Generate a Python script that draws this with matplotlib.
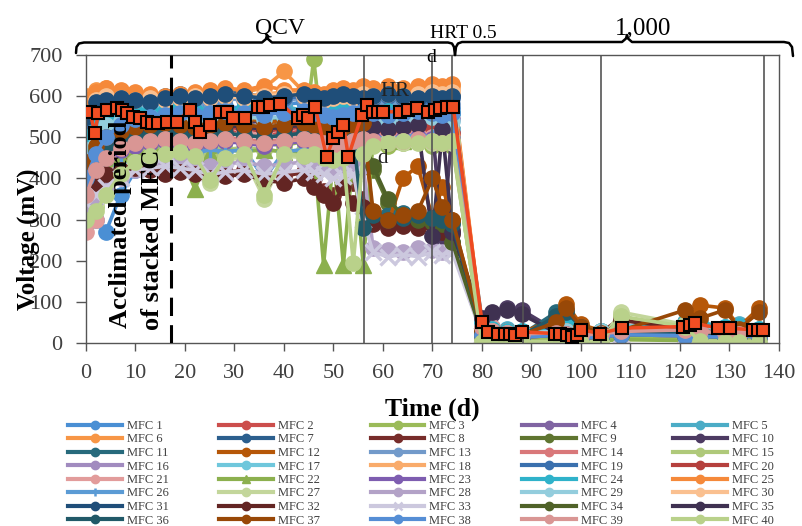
import matplotlib.pyplot as plt
from matplotlib.lines import Line2D

# sampling days of the individual MFCs (OCV / HRT phase, then 1,000 ohm phase)
days_a = [0, 2, 4, 7, 10, 13, 16, 19, 22, 25, 28, 32, 36, 40,
          44, 46, 48, 50, 52, 54, 56, 58, 61, 64, 67, 70, 72, 74]
days_b = [80, 82, 85, 88, 95, 97, 100, 104, 108, 121, 124, 129, 132, 136]
days = days_a + days_b

mfc1 = [290, 300, 270, 360, 420, 430, 480, 530, 560, 570, 575, 570, 575, 580,
        585, 580, 570, 565, 570, 580, 575, 580, 575, 570, 575, 570, 575, 570,
        20, 15, 12, 15, 18, 15, 12, 18, 22, 20, 22, 18, 15, 18]
mfc2 = [400, 440, 460, 490, 505, 510, 515, 510, 505, 510, 515, 510, 505, 510,
        515, 510, 500, 495, 500, 510, 515, 510, 505, 510, 505, 510, 505, 500,
        35, 28, 25, 22, 25, 22, 20, 25, 30, 35, 30, 28, 25, 22]
mfc3 = [330, 360, 400, 440, 470, 480, 490, 495, 480, 470, 490, 495, 485, 480,
        490, 690, 470, 480, 475, 480, 490, 495, 480, 485, 490, 480, 485, 480,
        10, 5, 5, 8, 10, 8, 5, 8, 12, 10, 8, 6, 8, 10]
mfc4 = [430, 470, 500, 520, 540, 545, 550, 545, 540, 545, 550, 555, 550, 545,
        550, 545, 540, 535, 540, 545, 550, 555, 550, 545, 550, 545, 550, 545,
        40, 30, 25, 22, 20, 18, 15, 20, 25, 22, 20, 18, 20, 22]
mfc5 = [480, 520, 540, 555, 560, 565, 560, 565, 570, 565, 560, 565, 570, 575,
        565, 560, 555, 560, 565, 570, 565, 560, 565, 560, 565, 560, 555, 560,
        55, 40, 35, 30, 45, 50, 35, 30, 40, 45, 50, 40, 45, 35]
mfc6 = [600, 615, 620, 610, 605, 600, 595, 600, 605, 610, 615, 610, 620, 660,
        610, 605, 600, 610, 615, 610, 620, 615, 620, 615, 620, 625, 620, 625,
        30, 25, 22, 20, 25, 28, 22, 20, 25, 30, 28, 25, 22, 20]
mfc7 = [560, 590, 595, 600, 595, 590, 600, 605, 600, 605, 610, 605, 600, 605,
        610, 605, 600, 605, 610, 605, 600, 605, 610, 605, 600, 605, 600, 605,
        25, 20, 18, 15, 20, 18, 15, 18, 22, 25, 20, 18, 20, 18]
mfc8 = [380, 400, 420, 440, 450, 430, 420, 425, 420, 410, 415, 420, 410, 405,
        415, 400, 370, 360, 380, 390, 350, 300, 290, 295, 290, 300, 280, 275,
        30, 25, 20, 18, 22, 20, 18, 25, 60, 40, 35, 30, 28, 25]
mfc9 = [420, 470, 500, 520, 530, 535, 540, 545, 540, 545, 550, 545, 540, 545,
        550, 545, 540, 545, 550, 545, 540, 420, 340, 300, 295, 295, 280, 245,
        25, 20, 18, 15, 18, 20, 15, 18, 22, 20, 18, 15, 18, 20]
mfc10 = [440, 480, 500, 520, 530, 535, 530, 535, 540, 535, 530, 535, 540, 535,
         530, 535, 540, 535, 530, 535, 540, 535, 530, 535, 540, 520, 250, 520,
         50, 70, 85, 80, 30, 25, 20, 22, 25, 20, 22, 18, 20, 22]
mfc11 = [400, 450, 480, 500, 510, 515, 520, 525, 520, 525, 530, 525, 520, 525,
         530, 525, 520, 515, 520, 525, 290, 300, 310, 315, 310, 305, 300, 295,
         30, 25, 22, 20, 75, 80, 40, 25, 30, 25, 22, 20, 25, 22]
mfc12 = [450, 490, 510, 520, 530, 535, 540, 545, 540, 535, 540, 545, 540, 535,
         540, 545, 540, 535, 540, 545, 540, 300, 290, 400, 430, 305, 380, 300,
         35, 30, 28, 25, 60, 95, 45, 30, 35, 50, 92, 85, 40, 85]
mfc13 = [520, 560, 575, 580, 585, 590, 585, 590, 585, 590, 595, 590, 585, 590,
         595, 590, 585, 580, 585, 590, 585, 590, 585, 590, 585, 590, 585, 580,
         30, 25, 20, 18, 22, 20, 18, 22, 25, 30, 25, 22, 20, 22]
mfc14 = [380, 430, 460, 480, 490, 495, 500, 495, 490, 495, 500, 495, 490, 495,
         500, 495, 490, 485, 490, 495, 500, 495, 490, 495, 500, 495, 490, 495,
         45, 35, 28, 25, 28, 25, 22, 25, 30, 35, 30, 28, 25, 28]
mfc15 = [300, 330, 380, 420, 450, 460, 465, 470, 465, 460, 470, 475, 470, 465,
         470, 465, 460, 455, 460, 465, 470, 490, 485, 490, 495, 490, 485, 495,
         5, 3, 2, 3, 5, 4, 3, 5, 70, 8, 5, 4, 3, 5]
mfc16 = [420, 460, 490, 510, 520, 525, 530, 525, 520, 525, 530, 525, 520, 525,
         530, 525, 520, 515, 520, 525, 530, 525, 520, 525, 530, 525, 520, 515,
         20, 18, 15, 15, 18, 15, 12, 15, 20, 18, 15, 15, 18, 15]
mfc17 = [450, 490, 510, 520, 525, 530, 535, 530, 525, 530, 535, 530, 525, 530,
         535, 530, 525, 520, 525, 530, 535, 530, 525, 520, 525, 520, 515, 520,
         45, 30, 25, 22, 35, 30, 25, 28, 40, 45, 40, 35, 38, 30]
mfc18 = [580, 600, 605, 600, 595, 600, 595, 600, 605, 600, 605, 600, 605, 610,
         605, 600, 595, 600, 605, 600, 610, 605, 610, 605, 610, 615, 610, 615,
         20, 18, 15, 15, 18, 15, 12, 15, 20, 18, 15, 15, 18, 15]
mfc19 = [540, 580, 590, 595, 590, 585, 590, 595, 600, 595, 600, 595, 590, 595,
         600, 595, 590, 595, 600, 595, 590, 595, 600, 595, 590, 595, 590, 595,
         25, 20, 18, 15, 18, 15, 12, 15, 20, 18, 15, 15, 18, 15]
mfc20 = [420, 460, 490, 505, 515, 520, 525, 520, 515, 520, 525, 520, 515, 520,
         525, 520, 515, 510, 515, 520, 525, 520, 515, 520, 525, 520, 515, 510,
         30, 25, 20, 18, 20, 18, 15, 18, 22, 25, 22, 20, 18, 20]
mfc21 = [270, 300, 420, 470, 495, 500, 505, 510, 505, 500, 505, 510, 505, 500,
         505, 500, 495, 490, 495, 500, 505, 500, 495, 500, 505, 500, 495, 500,
         55, 40, 30, 25, 28, 25, 22, 25, 30, 35, 30, 28, 25, 28]
mfc22 = [350, 390, 420, 450, 460, 465, 470, 460, 375, 460, 470, 465, 470, 465,
         460, 465, 190, 455, 190, 460, 190, 490, 495, 490, 500, 495, 490, 495,
         5, 3, 2, 3, 5, 4, 3, 5, 8, 6, 5, 4, 3, 5]
mfc23 = [380, 420, 450, 470, 480, 485, 490, 485, 480, 485, 490, 485, 480, 485,
         490, 485, 480, 475, 480, 485, 490, 495, 490, 495, 500, 495, 490, 495,
         20, 18, 15, 15, 18, 15, 12, 15, 20, 18, 15, 15, 18, 15]
mfc24 = [500, 540, 555, 560, 565, 560, 565, 570, 565, 560, 565, 570, 565, 560,
         565, 560, 555, 560, 565, 570, 565, 560, 565, 560, 555, 560, 555, 560,
         50, 35, 30, 28, 40, 45, 35, 30, 35, 50, 45, 40, 42, 35]
mfc25 = [590, 610, 620, 615, 610, 605, 600, 605, 610, 615, 620, 615, 625, 615,
         615, 610, 605, 615, 620, 615, 625, 620, 625, 620, 625, 630, 625, 630,
         35, 30, 25, 22, 28, 30, 25, 22, 28, 35, 30, 28, 25, 22]
mfc26 = [330, 380, 410, 430, 440, 445, 450, 455, 460, 470, 465, 470, 400, 465,
         470, 465, 460, 455, 460, 465, 470, 500, 495, 500, 505, 500, 495, 500,
         20, 18, 15, 15, 18, 15, 12, 15, 20, 18, 15, 15, 18, 15]
mfc27 = [310, 340, 390, 420, 440, 450, 455, 460, 450, 390, 445, 450, 350, 455,
         450, 455, 445, 450, 445, 450, 455, 485, 490, 485, 490, 485, 490, 485,
         3, 2, 2, 3, 4, 3, 2, 4, 75, 45, 5, 4, 3, 5]
mfc28 = [330, 350, 380, 400, 420, 430, 435, 440, 435, 430, 435, 440, 430, 435,
         440, 435, 430, 425, 430, 435, 430, 230, 225, 220, 230, 225, 220, 230,
         20, 18, 15, 15, 18, 15, 12, 15, 20, 18, 15, 15, 18, 15]
mfc29 = [470, 510, 530, 540, 545, 550, 545, 550, 545, 550, 555, 550, 545, 550,
         555, 550, 545, 540, 545, 550, 545, 550, 545, 550, 545, 550, 545, 540,
         40, 30, 25, 22, 30, 28, 25, 28, 35, 40, 35, 30, 32, 28]
mfc30 = [560, 590, 600, 595, 590, 595, 590, 595, 600, 595, 600, 595, 600, 605,
         600, 595, 590, 595, 600, 595, 605, 600, 605, 600, 605, 610, 605, 610,
         25, 20, 18, 15, 18, 15, 12, 15, 20, 18, 15, 15, 18, 15]
mfc31 = [550, 585, 590, 595, 590, 585, 595, 600, 595, 600, 605, 600, 595, 600,
         605, 600, 595, 600, 605, 600, 595, 600, 605, 600, 595, 600, 595, 600,
         20, 18, 15, 15, 18, 15, 12, 15, 20, 18, 15, 15, 18, 15]
mfc32 = [360, 390, 410, 420, 425, 420, 410, 415, 410, 400, 405, 410, 395, 390,
         400, 380, 360, 340, 380, 340, 330, 290, 280, 285, 280, 290, 270, 265,
         25, 20, 18, 15, 18, 15, 12, 15, 55, 35, 30, 25, 22, 20]
mfc33 = [340, 360, 380, 400, 420, 425, 430, 425, 420, 410, 415, 420, 410, 415,
         420, 415, 410, 400, 405, 410, 300, 220, 210, 215, 210, 220, 215, 220,
         20, 18, 15, 15, 18, 15, 12, 15, 20, 18, 15, 15, 18, 15]
mfc34 = [430, 470, 490, 510, 520, 525, 530, 525, 520, 525, 530, 525, 520, 525,
         530, 525, 520, 515, 520, 525, 500, 430, 350, 310, 300, 295, 290, 245,
         20, 18, 15, 15, 18, 15, 12, 15, 20, 18, 15, 15, 18, 15]
mfc35 = [420, 460, 490, 510, 520, 525, 530, 525, 520, 525, 530, 525, 520, 525,
         530, 525, 520, 515, 520, 525, 530, 525, 520, 525, 530, 260, 520, 270,
         60, 75, 80, 70, 25, 22, 18, 20, 25, 22, 20, 18, 20, 22]
mfc36 = [400, 440, 470, 490, 500, 505, 510, 505, 500, 505, 510, 505, 500, 505,
         510, 505, 500, 495, 500, 505, 280, 310, 300, 305, 310, 305, 300, 290,
         28, 22, 20, 18, 65, 75, 40, 22, 25, 22, 20, 18, 20, 22]
mfc37 = [440, 480, 500, 515, 525, 530, 535, 530, 525, 530, 535, 530, 525, 530,
         535, 530, 525, 520, 525, 530, 535, 320, 300, 310, 320, 400, 330, 300,
         30, 25, 22, 20, 50, 85, 40, 25, 30, 80, 60, 80, 35, 75]
mfc38 = [400, 460, 500, 530, 545, 550, 555, 560, 555, 560, 565, 560, 555, 560,
         565, 560, 555, 550, 555, 560, 565, 560, 555, 560, 565, 560, 555, 560,
         20, 18, 15, 15, 18, 15, 12, 15, 20, 18, 15, 15, 18, 15]
mfc39 = [360, 420, 450, 475, 485, 490, 495, 490, 485, 490, 495, 490, 485, 490,
         495, 490, 485, 480, 485, 490, 495, 490, 485, 490, 495, 490, 485, 490,
         40, 30, 25, 22, 25, 22, 20, 22, 28, 32, 28, 25, 22, 25]
mfc40 = [300, 320, 360, 410, 440, 455, 460, 465, 455, 395, 450, 460, 360, 460,
         455, 460, 450, 445, 450, 195, 460, 480, 485, 490, 485, 490, 485, 490,
         2, 2, 1, 2, 3, 2, 1, 3, 65, 40, 4, 3, 2, 3]

series = [mfc1, mfc2, mfc3, mfc4, mfc5, mfc6, mfc7, mfc8, mfc9, mfc10,
          mfc11, mfc12, mfc13, mfc14, mfc15, mfc16, mfc17, mfc18, mfc19, mfc20,
          mfc21, mfc22, mfc23, mfc24, mfc25, mfc26, mfc27, mfc28, mfc29, mfc30,
          mfc31, mfc32, mfc33, mfc34, mfc35, mfc36, mfc37, mfc38, mfc39, mfc40]

colors = ['#4A8FD4', '#CC4E4C', '#9BBB59', '#8064A2', '#4BACC6',
          '#F79646', '#2C5F8E', '#772C2A', '#5F7530', '#4D3B62',
          '#276A7C', '#B65708', '#729ACA', '#D9787A', '#AFC97A',
          '#A18BBF', '#6FC7DC', '#F9AB6B', '#3A70AE', '#B5403D',
          '#E29C9B', '#8CB04E', '#7E5DB0', '#2FB2CA', '#F5893A',
          '#5B9BD5', '#C3D69B', '#B3A2C7', '#93CDDD', '#FAC090',
          '#1F4E79', '#632523', '#CCC8DE', '#4F6228', '#3F3151',
          '#215968', '#984807', '#558ED5', '#D99694', '#B9D18A']
markers = ['o'] * 40
markers[21] = '^'
markers[25] = '+'
markers[32] = 'x'

# stacked MFC (red squares)
stack_days = [0.8, 1.8, 2.5, 4.2, 6.2, 7.2, 8.2, 9.5, 10.9, 12.3,
              13.3, 14.6, 16.3, 18.3, 21.0, 22.0, 23.0, 25.1, 27.1, 28.5,
              29.7, 32.1, 34.7, 35.8, 37.2, 39.2, 42.8, 43.8, 44.8, 46.3,
              48.6, 50.0, 51.0, 52.0, 53.0, 55.7, 56.7, 58.0, 59.0, 60.0,
              63.4, 65.1, 66.8, 69.1, 70.5, 71.5, 72.9, 74.2,
              80.0, 81.3, 83.3, 84.6, 85.7, 86.7, 88.0,
              94.7, 95.8, 97.1, 98.1, 99.1, 100.1, 103.8, 108.2,
              120.7, 122.0, 123.0, 127.7, 130.1, 134.8, 135.8, 136.8]
stack_mv = [562, 510, 559, 566, 570, 566, 559, 550, 546, 538,
            534, 534, 538, 538, 566, 538, 514, 530, 562, 562,
            546, 546, 574, 574, 578, 582, 546, 554, 546, 574,
            453, 498, 514, 530, 453, 554, 578, 562, 562, 562,
            562, 566, 570, 562, 566, 570, 574, 574,
            52, 27, 23, 23, 23, 19, 27,
            23, 23, 19, 15, 19, 32, 23, 36,
            40, 44, 48, 36, 36, 32, 32, 32]

phase_lines = [56.2, 70, 74, 88.3, 104, 137]
acclimation_end = 17.2

plt.rcParams['font.family'] = ['Liberation Serif', 'DejaVu Serif']

fig = plt.figure(figsize=(8.03, 5.26), dpi=100)
ax = fig.add_axes([86 / 803, 1 - 343 / 526, 693 / 803, 288 / 526])

for vals, c, m in zip(series, colors, markers):
    mew = 2.4 if m in ('+', 'x') else 1
    ax.plot(days, vals, color=c, lw=2.6, marker=m, ms=11, mec=c, mew=mew, zorder=2)

for d in phase_lines:
    ax.axvline(d, color='#555555', lw=1.2, zorder=3)
ax.axvline(acclimation_end, color='black', lw=2.2, ls=(0, (6, 3)), zorder=4)

ax.plot(stack_days, stack_mv, color='#EE4A22', lw=2.5, marker='s', ms=9,
        mfc='#F04E23', mec='black', mew=1.5, zorder=5)

ax.set_xlim(0, 140)
ax.set_ylim(0, 700)
ax.set_xticks(range(0, 141, 10))
ax.set_yticks(range(0, 701, 100))
ax.tick_params(axis='y', direction='out', length=7, width=1, pad=10,
               labelsize=16, labelcolor='#404040', color='#555555')
ax.tick_params(axis='x', direction='out', length=6, width=1, pad=9,
               labelsize=16, labelcolor='#404040', color='#555555')
for s in ax.spines.values():
    s.set_color('#555555')
    s.set_linewidth(1)

ax.set_ylabel('Voltage (mV)', fontsize=18, fontweight='bold')
ax.yaxis.set_label_coords(-0.066, 0.36)
ax.set_xlabel('Time (d)', fontsize=18.5, fontweight='bold')
ax.xaxis.set_label_coords(0.5, -0.19)

ax.text(6.9, 36, 'Acclimated period', rotation=90, rotation_mode='anchor',
        ha='left', va='center', fontsize=19, fontweight='bold', zorder=6)
ax.text(13.5, 32, 'of stacked MFC', rotation=90, rotation_mode='anchor',
        ha='left', va='center', fontsize=19, fontweight='bold', zorder=6)
ax.text(62.4, 612, 'HR', ha='center', va='center', fontsize=15, color='#222222', zorder=6)
ax.text(60, 448, 'd', ha='center', va='center', fontsize=15, color='#222222', zorder=6)


def brace(points):
    xs = [p[0] / 803 for p in points]
    ys = [1 - p[1] / 526 for p in points]
    fig.add_artist(Line2D(xs, ys, color='black', lw=1.8,
                          solid_capstyle='round', solid_joinstyle='round'))


brace([(76, 53), (76.5, 47), (79, 43.5), (84, 42.5), (262, 42.5), (266, 39),
       (267, 35), (268, 39), (272, 42.5), (448, 42.5), (452, 43.5), (454, 47), (455, 55)])
brace([(455, 55), (456, 47), (458, 43.5), (462, 42), (622, 42), (626, 38.5),
       (627, 35), (628, 38.5), (632, 42), (784, 42), (789, 43), (792, 47), (793, 56)])

fig.text(280 / 803, 1 - 28 / 526, 'QCV', ha='center', va='center', fontsize=17)
fig.text(643 / 803, 1 - 28 / 526, '1,000', ha='center', va='center', fontsize=18)
fig.text(463 / 803, 1 - 33 / 526, 'HRT 0.5', ha='center', va='center', fontsize=14)
fig.text(431 / 803, 1 - 58 / 526, 'd', ha='center', va='center', fontsize=14)

handles = [Line2D([], [], color=c, lw=3, marker=m, ms=6, mec=c,
                  mew=1.8 if m in ('+', 'x') else 1)
           for c, m in zip(colors, markers)]
labels = ['MFC %d' % (i + 1) for i in range(40)]
order = [r * 5 + c for c in range(5) for r in range(8)]
leg = fig.legend([handles[i] for i in order], [labels[i] for i in order],
                 ncol=5, loc='upper left', bbox_to_anchor=(68 / 803, 1 - 420 / 526),
                 frameon=False, fontsize=9, handlelength=4.3, handletextpad=0.4,
                 columnspacing=4.05, labelspacing=0.12, borderpad=0, borderaxespad=0)
for t in leg.get_texts():
    t.set_color('#404040')

fig.savefig('out.png', dpi=100)
